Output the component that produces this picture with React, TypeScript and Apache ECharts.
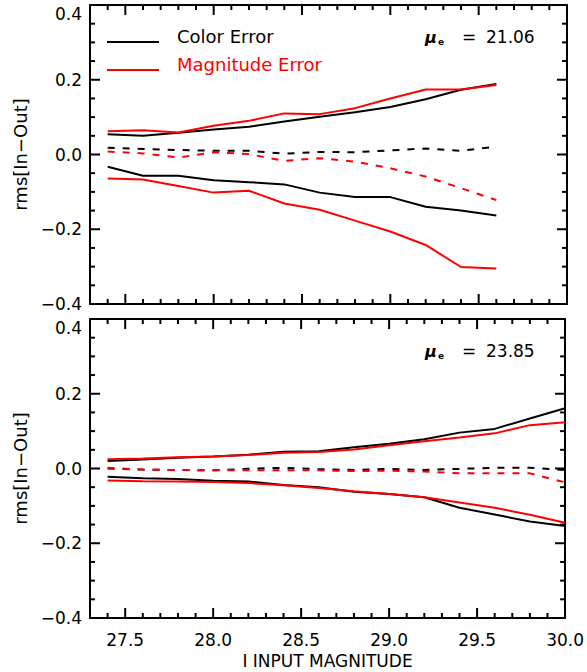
import React, { useEffect, useRef } from 'react';
import * as echarts from 'echarts';

// ---- data ----
const xTop = [27.4, 27.6, 27.8, 28.0, 28.2, 28.4, 28.6, 28.8, 29.0, 29.2, 29.4, 29.6];
const topColorUpper = [0.054, 0.050, 0.058, 0.067, 0.074, 0.088, 0.101, 0.113, 0.127, 0.148, 0.173, 0.189];
const topColorMid = [0.018, 0.015, 0.012, 0.010, 0.010, 0.002, 0.007, 0.006, 0.011, 0.016, 0.010, 0.021];
const topColorLower = [-0.033, -0.057, -0.057, -0.069, -0.074, -0.080, -0.102, -0.114, -0.114, -0.140, -0.150, -0.163];
const topMagUpper = [0.062, 0.065, 0.059, 0.077, 0.090, 0.110, 0.108, 0.124, 0.150, 0.174, 0.174, 0.186];
const topMagMid = [0.008, 0.003, -0.008, 0.006, 0.001, -0.017, -0.010, -0.019, -0.037, -0.059, -0.090, -0.122];
const topMagLower = [-0.064, -0.067, -0.084, -0.102, -0.097, -0.131, -0.148, -0.177, -0.206, -0.242, -0.301, -0.305];

const xBottom = [27.4, 27.6, 27.8, 28.0, 28.2, 28.4, 28.6, 28.8, 29.0, 29.2, 29.4, 29.6, 29.8, 30.0];
const botColorUpper = [0.020, 0.024, 0.029, 0.032, 0.037, 0.045, 0.046, 0.057, 0.066, 0.078, 0.096, 0.106, 0.134, 0.161];
const botColorMid = [0.000, -0.003, -0.004, -0.005, -0.001, 0.002, -0.002, -0.004, -0.001, -0.004, -0.001, 0.002, 0.002, -0.004];
const botColorLower = [-0.022, -0.026, -0.028, -0.033, -0.035, -0.044, -0.050, -0.062, -0.068, -0.077, -0.105, -0.123, -0.142, -0.154];
const botMagUpper = [0.025, 0.027, 0.030, 0.032, 0.036, 0.042, 0.044, 0.051, 0.062, 0.073, 0.083, 0.094, 0.116, 0.124];
const botMagMid = [0.002, -0.003, -0.004, -0.005, -0.005, -0.005, -0.005, -0.007, -0.006, -0.008, -0.013, -0.013, -0.013, -0.037];
const botMagLower = [-0.032, -0.034, -0.035, -0.036, -0.039, -0.045, -0.052, -0.061, -0.068, -0.077, -0.091, -0.105, -0.124, -0.145];

const xMajorTicks = [27.5, 28.0, 28.5, 29.0, 29.5, 30.0];
const xMinorTicks = [27.4, 27.6, 27.7, 27.8, 27.9, 28.1, 28.2, 28.3, 28.4, 28.6, 28.7, 28.8, 28.9,
  29.1, 29.2, 29.3, 29.4, 29.6, 29.7, 29.8, 29.9];
const yMajorTicks = [-0.4, -0.2, 0.0, 0.2, 0.4];
const yMinorTicks = [-0.35, -0.3, -0.25, -0.15, -0.1, -0.05, 0.05, 0.1, 0.15, 0.25, 0.3, 0.35];

const legendNames = ['Color Error', 'Magnitude Error'];
const panelLabels = ['21.06', '23.85'];
const xTitle = 'I INPUT MAGNITUDE';
const yTitle = 'rms[In\u2212Out]';

const X_MIN = 27.3;
const X_MAX = 30.0;
const Y_MIN = -0.4;
const Y_MAX = 0.4;

const FONT = 'DejaVu Sans';
const BLACK = '#000000';
const RED = '#ff0000';

const GRIDS = [
  { left: 90, top: 5, width: 477, height: 299 },
  { left: 90, top: 319, width: 477, height: 299 },
];

function fmt(v: number) {
  if (Math.abs(v) < 1e-9) return '0.0';
  const s = v.toFixed(1);
  return s.replace('-', '\u2212');
}

function makeXAxes(gridIndex: number, showLabels: boolean) {
  const base = (position: string, labels: boolean): any => ({
    type: 'value',
    gridIndex,
    min: X_MIN,
    max: X_MAX,
    position,
    axisLine: { show: true, onZero: false, lineStyle: { color: BLACK, width: 2 } },
    axisTick: { show: false },
    minorTick: { show: false },
    axisLabel: labels
      ? {
          show: true,
          customValues: xMajorTicks,
          formatter: (v: number) => fmt(v),
          margin: 13,
          color: BLACK,
          fontSize: 17,
          fontFamily: FONT,
        }
      : { show: false },
    splitLine: { show: false },
    ...(labels
      ? {
          name: xTitle,
          nameLocation: 'middle',
          nameGap: 34,
          nameTextStyle: { color: BLACK, fontSize: 17, fontFamily: FONT },
        }
      : {}),
  });
  return [base('bottom', showLabels), base('top', false)];
}

function makeYAxes(gridIndex: number) {
  const base = (position: string, labels: boolean): any => ({
    type: 'value',
    gridIndex,
    min: Y_MIN,
    max: Y_MAX,
    interval: 0.2,
    position,
    axisLine: { show: true, onZero: false, lineStyle: { color: BLACK, width: 2 } },
    axisTick: { show: false },
    minorTick: { show: false },
    axisLabel: labels
      ? {
          show: true,
          formatter: (v: number) => fmt(v),
          margin: 8,
          color: BLACK,
          fontSize: 17,
          fontFamily: FONT,
          verticalAlignMaxLabel: 'top',
        }
      : { show: false },
    splitLine: { show: false },
    minorSplitLine: { show: false },
    ...(labels
      ? {
          name: yTitle,
          nameLocation: 'middle',
          nameGap: 60,
          nameTextStyle: { color: BLACK, fontSize: 18, fontFamily: FONT },
        }
      : {}),
  });
  return [base('left', true), base('right', false)];
}

function line(name: string, xs: number[], ys: number[], color: string, dashed: boolean, xi: number, yi: number): any {
  return {
    type: 'line',
    name,
    xAxisIndex: xi,
    yAxisIndex: yi,
    data: xs.map((x, i) => [x, ys[i]]),
    symbol: 'none',
    lineStyle: { color, width: 2, type: dashed ? [7, 8] : 'solid' },
    itemStyle: { color },
  };
}

function muLabel(y: number, value: string): any[] {
  return [
    {
      type: 'text',
      x: 425,
      y,
      style: { text: '\u03bc', fontSize: 16, fontStyle: 'italic', fontWeight: 'bold', fontFamily: FONT, fill: BLACK, verticalAlign: 'middle' },
    },
    {
      type: 'text',
      x: 438,
      y: y + 4.5,
      style: { text: 'e', fontSize: 9, fontWeight: 'bold', fontFamily: FONT, fill: BLACK, verticalAlign: 'middle' },
    },
    {
      type: 'text',
      x: 462,
      y,
      style: { text: '=', fontSize: 17, fontFamily: FONT, fill: BLACK, verticalAlign: 'middle' },
    },
    {
      type: 'text',
      x: 486,
      y,
      style: { text: value, fontSize: 17, fontFamily: FONT, fill: BLACK, verticalAlign: 'middle' },
    },
  ];
}

// inward tick marks (filled 2px bars) on all four sides, positioned through the chart's scales
function tickMarks(chart: any, g: number): any[] {
  const grid = GRIDS[g];
  const finder = { xAxisIndex: g * 2, yAxisIndex: g * 2 };
  const px = (x: number, y: number): number[] => {
    let p: any = null;
    try {
      p = chart.convertToPixel(finder, [x, y]);
    } catch (e) {
      p = null;
    }
    if (!p || !isFinite(p[0]) || !isFinite(p[1])) {
      p = [
        grid.left + ((x - X_MIN) / (X_MAX - X_MIN)) * grid.width,
        grid.top + ((Y_MAX - y) / (Y_MAX - Y_MIN)) * grid.height,
      ];
    }
    return p;
  };
  const bar = (x: number, y: number, w: number, h: number) => ({
    type: 'rect',
    z: 50,
    shape: { x, y, width: w, height: h },
    style: { fill: BLACK },
  });
  const out: any[] = [];
  const addX = (vals: number[], len: number) =>
    vals.forEach((v) => {
      const b = px(v, Y_MIN);
      const t = px(v, Y_MAX);
      out.push(bar(b[0] - 1, b[1] - len, 2, len));
      out.push(bar(t[0] - 1, t[1], 2, len));
    });
  const addY = (vals: number[], len: number) =>
    vals.forEach((v) => {
      const l = px(X_MIN, v);
      const r = px(X_MAX, v);
      out.push(bar(l[0], l[1] - 1, len, 2));
      out.push(bar(r[0] - len, r[1] - 1, len, 2));
    });
  addX(xMajorTicks, 10);
  addX(xMinorTicks, 5);
  addY(yMajorTicks, 10);
  addY(yMinorTicks, 5);
  return out;
}

// legend icon: a 2px stripe in the lower part of the icon box
const LEGEND_ICON = 'path://M0,0L52,0L52,0L0,0ZM0,12L52,12L52,14L0,14Z';

export default function App() {
  const ref = useRef<HTMLDivElement>(null);
  useEffect(() => {
    if (!ref.current) return;
    const chart = echarts.init(ref.current, null, { renderer: 'svg' });
    const option: any = {
      animation: false,
      grid: GRIDS,
      xAxis: [...makeXAxes(0, false), ...makeXAxes(1, true)],
      yAxis: [...makeYAxes(0), ...makeYAxes(1)],
      legend: {
        orient: 'vertical',
        left: 107,
        top: 27,
        padding: 0,
        itemGap: 10,
        itemWidth: 52,
        itemHeight: 14,
        icon: LEGEND_ICON,
        selectedMode: false,
        textStyle: { fontSize: 18, fontFamily: FONT, padding: [0, 0, 0, 13] },
        data: [
          { name: legendNames[0], textStyle: { color: BLACK } },
          { name: legendNames[1], textStyle: { color: RED } },
        ],
      },
      series: [
        line(legendNames[0], xTop, topColorUpper, BLACK, false, 0, 0),
        line(legendNames[1], xTop, topMagUpper, RED, false, 0, 0),
        line(legendNames[0], xTop, topColorMid, BLACK, true, 0, 0),
        line(legendNames[0], xTop, topColorLower, BLACK, false, 0, 0),
        line(legendNames[1], xTop, topMagMid, RED, true, 0, 0),
        line(legendNames[1], xTop, topMagLower, RED, false, 0, 0),
        line(legendNames[0], xBottom, botColorUpper, BLACK, false, 2, 2),
        line(legendNames[0], xBottom, botColorMid, BLACK, true, 2, 2),
        line(legendNames[0], xBottom, botColorLower, BLACK, false, 2, 2),
        line(legendNames[1], xBottom, botMagUpper, RED, false, 2, 2),
        line(legendNames[1], xBottom, botMagMid, RED, true, 2, 2),
        line(legendNames[1], xBottom, botMagLower, RED, false, 2, 2),
      ],
    };
    chart.setOption(option);
    const graphics = [
      ...muLabel(37, panelLabels[0]),
      ...muLabel(351, panelLabels[1]),
      ...tickMarks(chart, 0),
      ...tickMarks(chart, 1),
    ];
    chart.setOption({ graphic: graphics });
    return () => chart.dispose();
  }, []);
  return (
    <div
      ref={ref}
      style={{ position: 'absolute', left: 0, top: 0, width: 587, height: 672, background: '#fff' }}
    />
  );
}
